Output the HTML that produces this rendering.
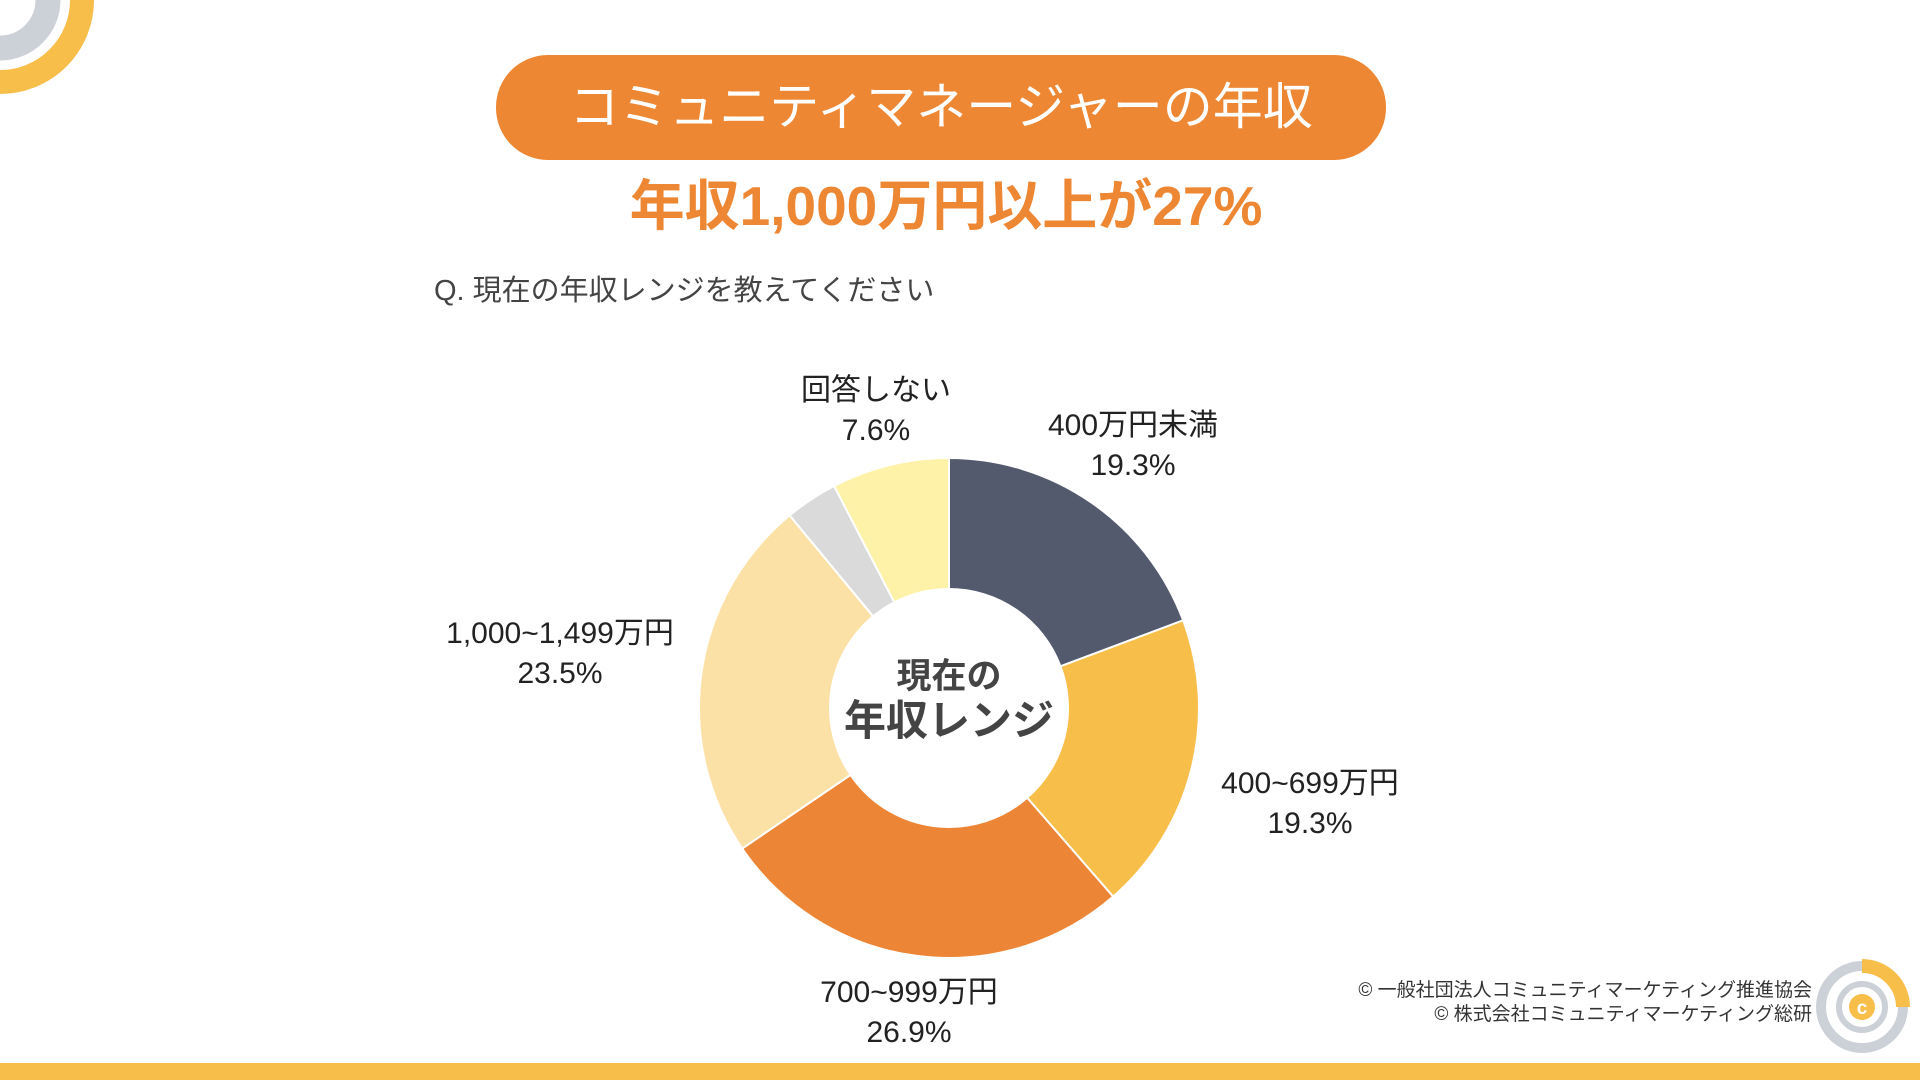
<!DOCTYPE html>
<html><head><meta charset="utf-8">
<style>
html,body{margin:0;padding:0;background:#fff;}
svg{display:block;}
text{font-family:"Liberation Sans","Noto Sans CJK JP",sans-serif;}
</style></head>
<body>
<svg id="chart" width="1920" height="1080" viewBox="0 0 1920 1080">
  <g>
    <circle cx="0" cy="0" r="82" fill="none" stroke="#f7be4a" stroke-width="24"/>
    <circle cx="0" cy="0" r="48" fill="none" stroke="#ccd1d8" stroke-width="25"/>
  </g>
  <rect x="496" y="55" width="890" height="105" rx="52" fill="#ed8733"/>
  <text x="941" y="124" text-anchor="middle" font-size="50" fill="#fff">コミュニティマネージャーの年収</text>
  <text x="946" y="225" text-anchor="middle" font-size="55" font-weight="bold" fill="#ed8733">年収1,000万円以上が27%</text>
  <text x="434" y="300" font-size="29" fill="#444">Q. 現在の年収レンジを教えてください</text>
  <g id="slices"></g>
  <g id="labels"></g>
  <text x="949" y="688" text-anchor="middle" font-size="35" font-weight="bold" fill="#444">現在の</text>
  <text x="949" y="735" text-anchor="middle" font-size="42" font-weight="bold" fill="#444">年収レンジ</text>
  <text x="1812" y="996" text-anchor="end" font-size="19" fill="#333">© 一般社団法人コミュニティマーケティング推進協会</text>
  <text x="1812" y="1020" text-anchor="end" font-size="19" fill="#333">© 株式会社コミュニティマーケティング総研</text>
  <g>
    <path d="M1862 966 A41 41 0 0 1 1903 1007" fill="none" stroke="#f7be4a" stroke-width="14"/>
    <path d="M1903 1007 A41 41 0 1 1 1862 966" fill="none" stroke="#ccd1d8" stroke-width="10"/>
    <circle cx="1862" cy="1007" r="23" fill="none" stroke="#ccd1d8" stroke-width="6"/>
    <circle cx="1862" cy="1007" r="13" fill="#f7be4a"/>
    <text x="1862" y="1014" text-anchor="middle" font-size="19" font-weight="bold" fill="#fff">c</text>
  </g>
  <rect x="0" y="1063" width="1920" height="17" fill="#f7be4a"/>
</svg>
<script>
const categories = ["400万円未満","400~699万円","700~999万円","1,000~1,499万円","その他","回答しない"];
const values = [19.3, 19.3, 26.9, 23.5, 3.4, 7.6];
const valueLabels = ["19.3%","19.3%","26.9%","23.5%","","7.6%"];
const colors = ["#535a6e","#f7be4a","#ec8535","#fbe1a5","#dadada","#fdf2a8"];
const labelPos = [[1133,435],[1310,793],[909,1002],[560,643],null,[876,400]];
const cx=949, cy=708, R=250, r=119;
const NS="http://www.w3.org/2000/svg";
const total = values.reduce((a,b)=>a+b,0);
function pt(a,rad){return [cx+rad*Math.sin(a), cy-rad*Math.cos(a)];}
let acc=0;
const gS=document.getElementById('slices'), gL=document.getElementById('labels');
values.forEach((v,i)=>{
  const a0=acc/total*2*Math.PI; acc+=v; const a1=acc/total*2*Math.PI;
  const large=(a1-a0)>Math.PI?1:0;
  const [x0,y0]=pt(a0,R),[x1,y1]=pt(a1,R),[x2,y2]=pt(a1,r),[x3,y3]=pt(a0,r);
  const p=document.createElementNS(NS,'path');
  p.setAttribute('d',`M${x0} ${y0} A${R} ${R} 0 ${large} 1 ${x1} ${y1} L${x2} ${y2} A${r} ${r} 0 ${large} 0 ${x3} ${y3} Z`);
  p.setAttribute('fill',colors[i]);
  p.setAttribute('stroke','#fff');
  p.setAttribute('stroke-width','2');
  
  
  gS.appendChild(p);
  if(labelPos[i]){
    const [lx,ly]=labelPos[i];
    const t1=document.createElementNS(NS,'text');
    t1.setAttribute('x',lx);t1.setAttribute('y',ly);t1.setAttribute('text-anchor','middle');
    t1.setAttribute('font-size','30');t1.setAttribute('fill','#222');
    t1.textContent=categories[i];
    
    
    gL.appendChild(t1);
    const t2=document.createElementNS(NS,'text');
    t2.setAttribute('x',lx);t2.setAttribute('y',ly+40);t2.setAttribute('text-anchor','middle');
    t2.setAttribute('font-size','30');t2.setAttribute('fill','#222');
    t2.textContent=valueLabels[i];
    
    
    gL.appendChild(t2);
  }
});
</script>
</body></html>
